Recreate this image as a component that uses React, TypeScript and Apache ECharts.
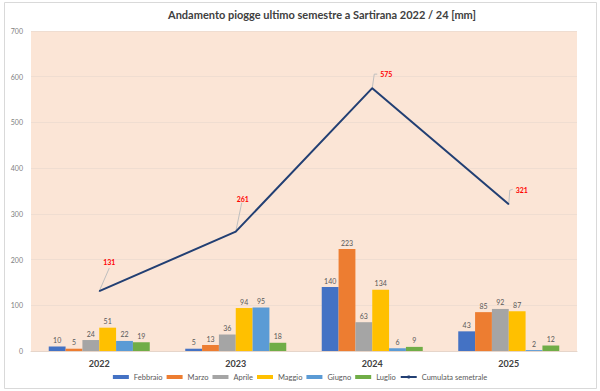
import React, { useEffect, useRef } from "react";
import * as echarts from "echarts";

const years = ["2022", "2023", "2024", "2025"];
const febbraio = [10, 5, 140, 43];
const marzo = [5, 13, 223, 85];
const aprile = [24, 36, 63, 92];
const maggio = [51, 94, 134, 87];
const giugno = [22, 95, 6, 2];
const luglio = [19, 18, 9, 12];
const cumulata = [131, 261, 575, 321];

const barSeries = [
  { name: "Febbraio", data: febbraio, color: "#4472C4" },
  { name: "Marzo", data: marzo, color: "#ED7D31" },
  { name: "Aprile", data: aprile, color: "#A5A5A5" },
  { name: "Maggio", data: maggio, color: "#FFC000" },
  { name: "Giugno", data: giugno, color: "#5B9BD5" },
  { name: "Luglio", data: luglio, color: "#70AD47" },
];

// label offsets (style) and leader-line shapes relative to the data point
const labelOffsets = [
  { dx: 10, dy: -29 },
  { dx: 7, dy: -33 },
  { dx: 14, dy: -14 },
  { dx: 13, dy: -14 },
];
const leaderShapes = [
  [[0, 0], [10, -23]],
  [[0, 0], [6, -29]],
  [[0, 0], [2, -14], [5, -14]],
  [[0, 0], [1, -14], [4, -15]],
];

export default function App() {
  const ref = useRef<HTMLDivElement>(null);
  useEffect(() => {
    if (!ref.current) return;
    const chart = echarts.init(ref.current, undefined, { renderer: "svg" });
    const font = "Lato, 'Liberation Sans', sans-serif";
    chart.setOption({
      animation: false,
      backgroundColor: "#ffffff",
      textStyle: { fontFamily: font },
      title: {
        text: "Andamento piogge ultimo semestre a Sartirana 2022 / 24 [mm]",
        left: 317,
        textAlign: "center",
        top: 4,
        textStyle: { fontSize: 11, fontWeight: "bold", color: "#404040", fontFamily: font },
      },
      graphic: [
        {
          type: "rect",
          shape: { x: 4.5, y: 2.5, width: 592, height: 386 },
          style: { fill: "none", stroke: "#D9D9D9", lineWidth: 1 },
          silent: true,
          z: -1,
        },
      ],
      legend: {
        bottom: 5,
        left: "center",
        itemWidth: 16,
        itemHeight: 4,
        itemGap: 4,
        textStyle: { fontSize: 7.5, color: "#595959", fontFamily: font },
        data: [
          ...barSeries.map((s) => ({ name: s.name, icon: "rect" })),
          { name: "Cumulata semetrale" },
        ],
      },
      grid: {
        left: 31,
        right: 23,
        top: 31,
        bottom: 40,
        show: true,
        backgroundColor: "#FBE5D6",
        borderWidth: 0,
      },
      xAxis: {
        type: "category",
        data: years,
        axisTick: { show: false },
        axisLine: { show: true, lineStyle: { color: "#E6D5CA" } },
        axisLabel: { fontSize: 9, fontWeight: "bold", color: "#404040", margin: 8, fontFamily: font },
      },
      yAxis: {
        type: "value",
        min: 0,
        max: 700,
        interval: 100,
        axisLine: { show: false },
        axisTick: { show: false },
        axisLabel: { fontSize: 7, color: "#808080", margin: 8, fontFamily: font },
        splitLine: { lineStyle: { color: "#EFDDD1", width: 1 } },
      },
      series: [
        ...barSeries.map((s) => ({
          name: s.name,
          type: "bar",
          data: s.data,
          barGap: "0%",
          barCategoryGap: "26%",
          itemStyle: { color: s.color },
          label: {
            show: true,
            position: "top",
            distance: 3,
            fontSize: 7,
            color: "#595959",
            fontFamily: font,
          },
        })),
        {
          name: "leader",
          type: "custom",
          data: cumulata.map((v, i) => [i, v]),
          silent: true,
          z: 4,
          renderItem: (params: any, api: any) => {
            const p = api.coord([api.value(0), api.value(1)]);
            const shape = leaderShapes[params.dataIndex];
            return {
              type: "polyline",
              shape: { points: shape.map(([dx, dy]) => [p[0] + dx, p[1] + dy]) },
              style: { stroke: "#BFBFBF", lineWidth: 1, fill: null },
            };
          },
        },
        {
          name: "Cumulata semetrale",
          type: "line",
          data: cumulata,
          symbol: "circle",
          symbolSize: 1,
          showSymbol: true,
          lineStyle: { color: "#223F73", width: 2 },
          itemStyle: { color: "#223F73" },
          z: 5,
          label: {
            show: true,
            position: "inside",
            fontSize: 7,
            fontWeight: "bold",
            color: "#FF0000",
            fontFamily: font,
          },
          labelLayout: (params: any) => labelOffsets[params.dataIndex] || {},
        },
      ],
    });
    return () => chart.dispose();
  }, []);
  return (
    <div
      ref={ref}
      style={{ position: "fixed", left: 0, top: 0, width: 600, height: 391 }}
    />
  );
}
